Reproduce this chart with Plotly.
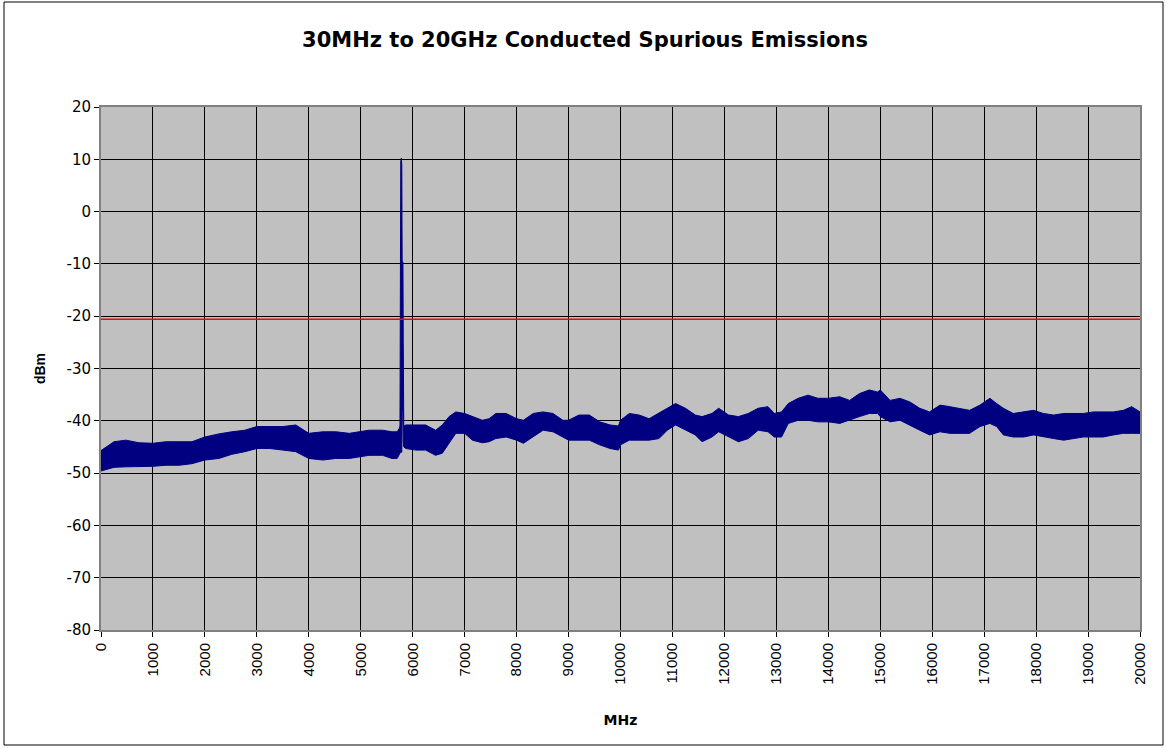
import plotly.graph_objects as go

# Measured spectrum envelope: frequency (MHz), upper and lower edge of the trace (dBm)
freq_mhz = [
    0, 250, 480, 730, 1000, 1250, 1500, 1750, 2000, 2270, 2520, 2770, 3000, 3250,
    3500, 3750, 4000, 4270, 4520, 4780, 5000, 5160, 5420, 5600, 5700, 5740, 5755,
    5762, 5770, 5780, 5790, 5797, 5812, 5818, 5828, 5870, 6060, 6250, 6440, 6570,
    6700, 6830, 7000, 7150, 7340, 7470, 7600, 7800, 8000, 8130, 8320, 8510, 8700,
    8890, 9000, 9200, 9400, 9600, 9800, 9960, 10000, 10170, 10360, 10550, 10740,
    10900, 11060, 11250, 11440, 11570, 11760, 11890, 12080, 12270, 12460, 12650,
    12840, 12960, 13100, 13230, 13420, 13610, 13800, 14000, 14220, 14410, 14600,
    14790, 14950, 15000, 15190, 15380, 15570, 15760, 15950, 16150, 16340, 16530,
    16720, 16920, 17110, 17240, 17370, 17560, 17760, 17950, 18140, 18340, 18530,
    18720, 18910, 19100, 19290, 19490, 19680, 19840, 20000,
]
upper_dbm = [
    -45.7, -44.0, -43.7, -44.2, -44.3, -44.0, -44.0, -44.0, -43.1, -42.5, -42.1,
    -41.8, -41.1, -41.1, -41.1, -40.8, -42.4, -42.1, -42.1, -42.4, -42.1, -41.8,
    -41.8, -42.1, -42.1, -41.5, -41.0, 0.0, 9.5, 10.2, 9.0, -9.6, -9.6, -25.0,
    -41.0, -40.8, -40.8, -40.8, -41.8, -40.8, -39.2, -38.3, -38.6, -39.2, -39.9,
    -39.6, -38.6, -38.6, -39.6, -39.9, -38.6, -38.3, -38.6, -39.9, -39.9, -38.9,
    -38.9, -40.2, -40.8, -41.0, -39.9, -38.6, -38.9, -39.6, -38.6, -37.6, -36.7,
    -37.6, -38.9, -39.2, -38.6, -37.6, -38.9, -39.2, -38.6, -37.6, -37.3, -38.6,
    -38.3, -36.7, -35.7, -35.1, -35.7, -35.7, -35.4, -36.1, -34.8, -34.1, -34.5,
    -34.1, -36.1, -35.7, -36.4, -37.6, -38.3, -37.0, -37.3, -37.6, -38.0, -37.0,
    -35.7, -36.7, -37.6, -38.6, -38.3, -38.0, -38.6, -38.9, -38.6, -38.6, -38.6,
    -38.3, -38.3, -38.3, -38.0, -37.3, -38.3,
]
lower_dbm = [
    -49.6, -48.9, -48.8, -48.7, -48.7, -48.5, -48.5, -48.2, -47.5, -47.2, -46.4,
    -45.9, -45.3, -45.3, -45.6, -45.9, -47.2, -47.5, -47.2, -47.2, -46.9, -46.6,
    -46.6, -47.2, -47.2, -46.5, -46.2, -46.0, -46.0, -46.0, -46.0, -38.0, -38.0,
    -44.0, -45.0, -45.3, -45.6, -45.6, -46.6, -46.2, -44.3, -42.4, -42.4, -43.7,
    -44.2, -44.0, -43.4, -43.1, -43.7, -44.3, -43.1, -41.8, -42.1, -43.1, -43.7,
    -43.7, -43.7, -44.6, -45.3, -45.6, -44.6, -43.7, -43.7, -43.7, -43.4, -41.8,
    -40.8, -41.8, -42.7, -44.0, -43.1, -42.1, -43.1, -44.0, -43.4, -41.8, -42.1,
    -43.1, -43.1, -40.5, -39.9, -39.9, -40.2, -40.2, -40.5, -39.9, -39.2, -38.6,
    -38.6, -39.2, -40.2, -39.9, -40.8, -41.8, -42.7, -42.1, -42.4, -42.4, -42.4,
    -41.1, -40.5, -41.1, -42.7, -43.1, -43.1, -42.7, -43.1, -43.4, -43.7, -43.4,
    -43.1, -43.1, -43.1, -42.7, -42.4, -42.4, -42.4,
]

# Limit line
limit_freq = [0, 20000]
limit_dbm = [-20.6, -20.6]

x_ticks = list(range(0, 20001, 1000))
y_ticks = list(range(-80, 21, 10))

ARIAL = "Liberation Sans, Arial, sans-serif"
WIDE = "DejaVu Sans, Verdana, sans-serif"
NAVY = "#000080"

fig = go.Figure()

# Spectrum trace drawn as the band between its upper and lower edges
fig.add_trace(go.Scatter(
    x=freq_mhz + freq_mhz[::-1],
    y=upper_dbm + lower_dbm[::-1],
    mode="lines",
    fill="toself",
    fillcolor=NAVY,
    line=dict(color=NAVY, width=1),
    hoverinfo="skip",
    showlegend=False,
))

fig.add_trace(go.Scatter(
    x=limit_freq, y=limit_dbm, mode="lines",
    line=dict(color="#FF0000", width=1.5),
    showlegend=False,
))

fig.update_layout(
    width=1167, height=748, autosize=False,
    margin=dict(l=101, r=27, t=107, b=118),
    paper_bgcolor="white",
    plot_bgcolor="#C0C0C0",
    font=dict(family=ARIAL, size=15, color="black"),
    title=dict(
        text="<b>30MHz to 20GHz Conducted Spurious Emissions</b>",
        x=585 / 1167, xref="container", xanchor="center",
        y=1 - 40 / 748, yref="container", yanchor="middle",
        font=dict(family=WIDE, size=21, color="black"),
    ),
    shapes=[dict(
        type="rect", xref="paper", yref="paper",
        x0=-97 / 1039, x1=1 + 23 / 1039,
        y0=-115 / 523, y1=1 + 105 / 523,
        line=dict(color="black", width=1),
        fillcolor="rgba(0,0,0,0)", layer="below",
    )],
)

fig.update_xaxes(
    range=[0, 20000], tickmode="array", tickvals=x_ticks,
    ticktext=[str(v) for v in x_ticks], tickangle=-90,
    showgrid=True, gridcolor="black", gridwidth=1,
    showline=True, linecolor="#808080", linewidth=2, mirror=True,
    ticks="outside", ticklen=5, tickcolor="black",
    zeroline=False,
    title=dict(text="<b>MHz</b>", font=dict(family=WIDE, size=14), standoff=31),
    tickfont=dict(family=ARIAL, size=15),
)
fig.update_yaxes(
    range=[-80, 20], tickmode="array", tickvals=y_ticks,
    ticktext=[str(v) for v in y_ticks],
    showgrid=True, gridcolor="black", gridwidth=1,
    showline=True, linecolor="#808080", linewidth=2, mirror=True,
    ticks="outside", ticklen=5, tickcolor="black",
    zeroline=False,
    title=dict(text="<b>dBm</b>", font=dict(family=ARIAL, size=14), standoff=18),
    tickfont=dict(family=WIDE, size=15),
)

fig.write_html("out.html")
